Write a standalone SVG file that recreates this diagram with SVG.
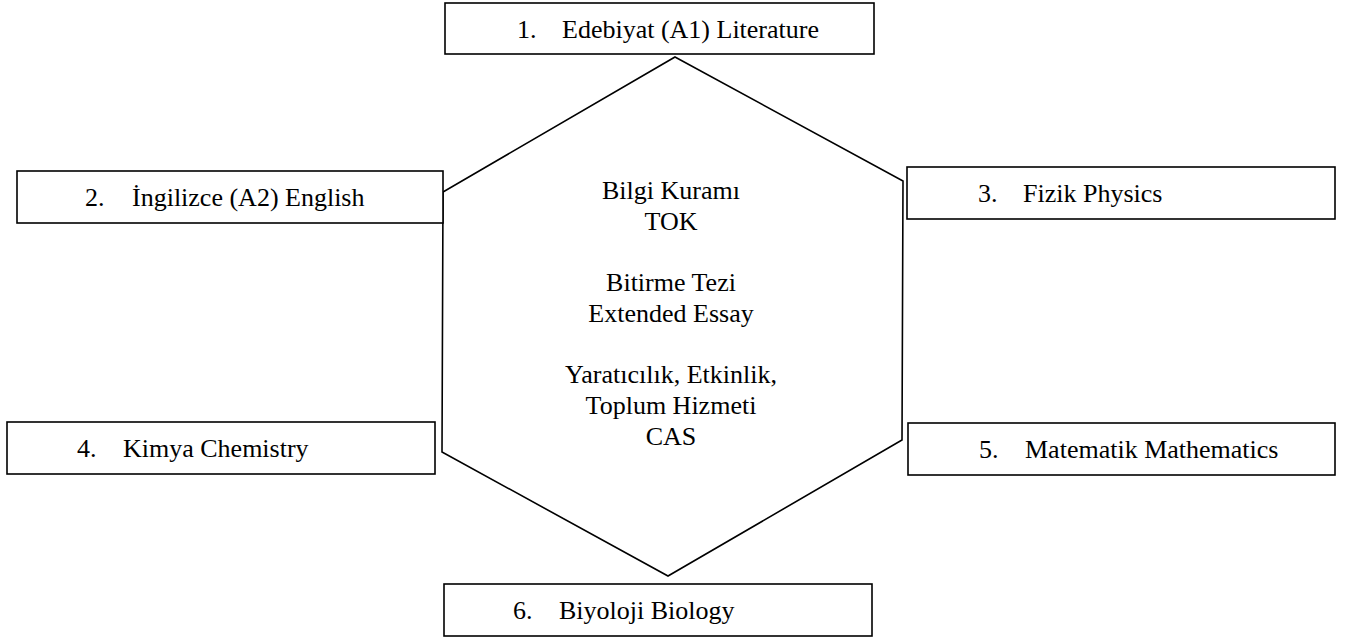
<svg xmlns="http://www.w3.org/2000/svg" width="1350" height="639" viewBox="0 0 1350 639">
<style>
.box{fill:#fff;stroke:#000;stroke-width:1.6}
.hex{fill:#fff;stroke:#000;stroke-width:1.6;stroke-linejoin:miter}
text{font-family:"Liberation Serif","Times New Roman",serif;font-size:26px;fill:#000}
.c{text-anchor:middle}
</style>
<rect width="1350" height="639" fill="#fff"/>
<g id="center">
<polygon class="hex" points="675,57 903,181 902,440 668,576 442,452 443,192"/>
<text class="c" x="671" y="199">Bilgi Kuramı</text>
<text class="c" x="671" y="230">TOK</text>
<text class="c" x="671" y="291">Bitirme Tezi</text>
<text class="c" x="671" y="322">Extended Essay</text>
<text class="c" x="671" y="383">Yaratıcılık, Etkinlik,</text>
<text class="c" x="671" y="414">Toplum Hizmeti</text>
<text class="c" x="671" y="445">CAS</text>
</g>
<g id="connectors"></g>
<g id="n1"><rect class="box" x="445" y="3" width="429" height="51"/><text x="517" y="38">1.</text><text x="562" y="38">Edebiyat (A1) Literature</text></g>
<g id="n2"><rect class="box" x="17" y="171" width="426" height="52"/><text x="85" y="206">2.</text><text x="132" y="206">İngilizce (A2) English</text></g>
<g id="n3"><rect class="box" x="907" y="167" width="428" height="52"/><text x="978" y="202">3.</text><text x="1023" y="202">Fizik Physics</text></g>
<g id="n4"><rect class="box" x="7" y="422" width="428" height="52"/><text x="77" y="457">4.</text><text x="123" y="457">Kimya Chemistry</text></g>
<g id="n5"><rect class="box" x="908" y="423" width="427" height="52"/><text x="979" y="458">5.</text><text x="1025" y="458">Matematik Mathematics</text></g>
<g id="n6"><rect class="box" x="444" y="584" width="428" height="52"/><text x="513" y="619">6.</text><text x="559" y="619">Biyoloji Biology</text></g>
</svg>
